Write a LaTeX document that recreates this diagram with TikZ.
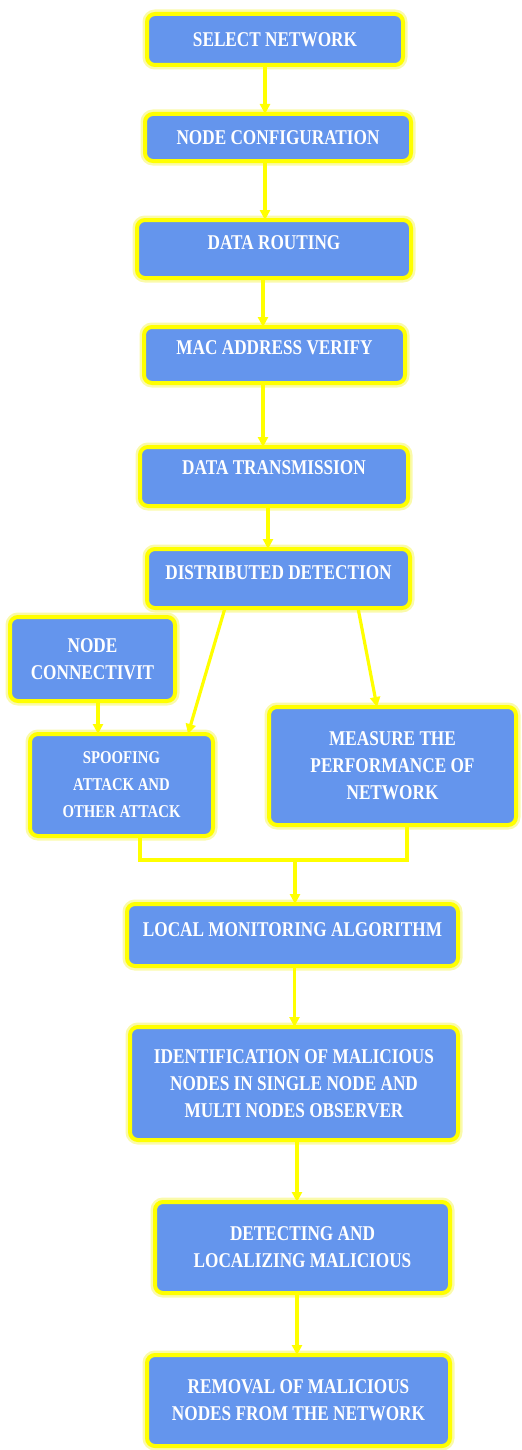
\documentclass[tikz,border=0pt]{standalone}
\usepackage{fontspec}
\setmainfont{Liberation Serif}
\newfontfamily\boxfont[FakeStretch=0.82]{Liberation Serif}
\usetikzlibrary{arrows.meta,calc}
\definecolor{boxblue}{RGB}{100,149,237}
\definecolor{lineyellow}{RGB}{255,255,0}
\definecolor{haloyellow}{RGB}{250,250,170}

\begin{document}
\begin{tikzpicture}[x=0.5pt,y=-0.5pt,
  box/.style={draw=lineyellow, line width=2pt, fill=boxblue, rounded corners=4pt,
    anchor=north west, inner sep=2pt, outer sep=0pt, align=center, text=white,
    font={\boxfont\bfseries\fontsize{10.5}{13.5}\selectfont},
    preaction={draw=haloyellow, line width=4.5pt}},
  small/.style={font={\boxfont\bfseries\fontsize{9}{13.5}\selectfont}},
  link/.style={draw=lineyellow, line width=1.6pt},
  arr/.style={link, -{Triangle[length=5pt,width=5pt]}}]

\useasboundingbox (0,0) rectangle (521,1450);

% main chain
\node[box, minimum width=128pt, minimum height=25.5pt] (sel) at (147,14) {SELECT NETWORK};
\node[box, minimum width=133pt, minimum height=23.5pt] (conf) at (145,114) {NODE CONFIGURATION};
\node[box, minimum width=137pt, minimum height=29pt, text depth=6pt] (rout) at (137,220) {DATA ROUTING};
\node[box, minimum width=130.5pt, minimum height=28pt, text depth=7pt] (mac) at (144,327) {MAC ADDRESS VERIFY};
\node[box, minimum width=134pt, minimum height=29.5pt, text depth=9pt] (trans) at (140,447) {DATA TRANSMISSION};
\node[box, minimum width=131.5pt, minimum height=29.5pt, text depth=6pt] (dist) at (147,549) {DISTRIBUTED DETECTION};

% branches
\node[box, minimum width=82.5pt, minimum height=42pt] (conn) at (10,617) {NODE\\CONNECTIVIT};
\node[box, small, minimum width=91.5pt, minimum height=51pt] (spoof) at (30,734) {SPOOFING\\ATTACK AND\\OTHER ATTACK};
\node[box, minimum width=123.5pt, minimum height=59pt] (meas) at (269,707) {MEASURE THE\\PERFORMANCE OF\\NETWORK};

% lower chain
\node[box, minimum width=165.5pt, minimum height=31pt, text depth=5pt] (local) at (127,904) {LOCAL MONITORING ALGORITHM};
\node[box, minimum width=164pt, minimum height=56.5pt] (ident) at (130,1027) {IDENTIFICATION OF MALICIOUS\\NODES IN SINGLE NODE AND\\MULTI NODES OBSERVER};
\node[box, minimum width=147.5pt, minimum height=45.5pt] (detect) at (155,1202) {DETECTING AND\\LOCALIZING MALICIOUS};
\node[box, minimum width=151.5pt, minimum height=45.5pt] (remove) at (147,1355) {REMOVAL OF MALICIOUS\\NODES FROM THE NETWORK};

% connectors of the main chain
\draw[arr] ([xshift=-5pt]sel.south) -- ([xshift=-5pt]sel.south |- conf.north);
\draw[arr] ([xshift=-6.5pt]conf.south) -- ([xshift=-6.5pt]conf.south |- rout.north);
\draw[arr] ([xshift=-5.5pt]rout.south) -- ([xshift=-5.5pt]rout.south |- mac.north);
\draw[arr] ([xshift=-5.75pt]mac.south) -- ([xshift=-5.75pt]mac.south |- trans.north);
\draw[arr] ([xshift=-3pt]trans.south) -- ([xshift=-3pt]trans.south |- dist.north);

% branches out of the detection step
\draw[arr] ([xshift=-26.75pt]dist.south) -- ([xshift=33.25pt]spoof.north);
\draw[arr] ([xshift=39.75pt]dist.south) -- ([xshift=-7.75pt]meas.north);
\draw[arr] ([xshift=2.75pt]conn.south) -- ([xshift=2.75pt]conn.south |- spoof.north);

% joining the two branches
\coordinate (merge) at (295,860);
\draw[link] ([xshift=9.25pt]spoof.south) |- (merge) -| ([xshift=7.25pt]meas.south);
\draw[arr] (merge) -- (merge |- local.north);

% connectors of the lower chain
\draw[arr] ([xshift=1pt]local.south) -- ([xshift=1pt]local.south |- ident.north);
\draw[arr] ([xshift=1.5pt]ident.south) -- ([xshift=1.5pt]ident.south |- detect.north);
\draw[arr] ([xshift=-2.75pt]detect.south) -- ([xshift=-2.75pt]detect.south |- remove.north);
\end{tikzpicture}
\end{document}
